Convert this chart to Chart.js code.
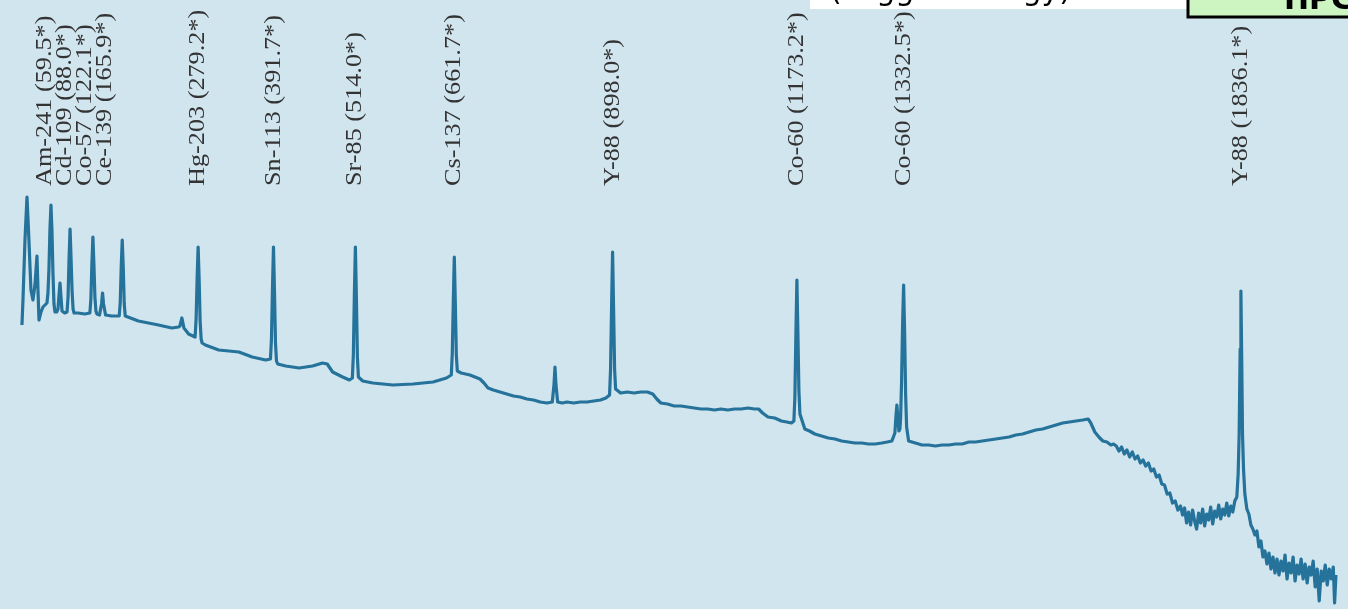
<!DOCTYPE html>
<html>
<head>
<meta charset="utf-8">
<title>Gamma-ray calibration spectrum</title>
<script src="https://cdn.jsdelivr.net/npm/chart.js@4/dist/chart.umd.min.js"></script>
<style>
  html, body { margin: 0; padding: 0; background: #d1e5ef; }
  #wrap { width: 1348px; height: 609px; position: relative; }
</style>
</head>
<body>
<div id="wrap"><canvas id="spectrum"></canvas></div>
<script>
// Photopeak labels: nuclide and line energy (keV)
const peakNuclides = ['Am-241', 'Cd-109', 'Co-57', 'Ce-139', 'Hg-203', 'Sn-113',
                      'Sr-85', 'Cs-137', 'Y-88', 'Co-60', 'Co-60', 'Y-88'];
const peakEnergiesKeV = [59.5, 88.0, 122.1, 165.9, 279.2, 391.7,
                         514.0, 661.7, 898.0, 1173.2, 1332.5, 1836.1];

// Header fragments along the top edge
const headerText = '(Trigger energy)';
const badgeText = 'HPGe';

// Measured spectrum: [energy keV, relative counts]
const spectrum = [
  [16.2, 284], [17.7, 309], [20.7, 369], [23.7, 412], [26.6, 369], [29.6, 319],
  [32.6, 309], [35.6, 324], [38.6, 353], [40.1, 319], [41.6, 289], [44.6, 297],
  [47.6, 302], [53.5, 306], [55.0, 316], [56.5, 340], [58.0, 380], [59.5, 404],
  [61.0, 378], [62.5, 335], [64.0, 305], [65.5, 297], [68.0, 297], [70.0, 300],
  [71.5, 314], [73.0, 326], [74.5, 312], [76.0, 298], [80.0, 296], [83.5, 297],
  [85.0, 312], [86.5, 350], [88.0, 380], [89.5, 350], [91.0, 318], [92.5, 300],
  [94.0, 296], [100, 296], [110, 295], [117.6, 296], [119.1, 310], [120.6, 345],
  [122.1, 372], [123.6, 345], [125.1, 312], [126.6, 298], [128.1, 295], [132, 294],
  [135, 305], [136.5, 316], [138, 305], [141, 294], [150, 293], [161.4, 293],
  [162.9, 306], [164.4, 342], [165.9, 369], [167.4, 342], [168.9, 305], [170.4, 293],
  [190, 288], [220, 284], [240, 281], [250, 282], [252, 283], [255, 291],
  [258, 281], [265, 275], [274.7, 272], [276.2, 290], [277.7, 330], [279.2, 362],
  [280.7, 330], [282.2, 288], [283.7, 270], [285.2, 266], [290, 264], [310, 259],
  [340, 257], [360, 252], [380, 249], [387.2, 250], [388.7, 270], [390.2, 320],
  [391.7, 362], [393.2, 318], [394.7, 266], [396.2, 248], [398, 245], [410, 243],
  [430, 241], [450, 243], [465, 246], [472, 245], [480, 237], [495, 232],
  [505, 229], [509.5, 231], [511.0, 255], [512.5, 315], [514.0, 362], [515.5, 312],
  [517.0, 252], [518.5, 232], [525, 228], [540, 226], [570, 224], [600, 225],
  [630, 227], [650, 231], [657.2, 234], [658.7, 256], [660.2, 308], [661.7, 352],
  [663.2, 306], [664.7, 254], [666.2, 238], [672, 236], [685, 234], [700, 230],
  [706, 226], [712, 221], [720, 219], [730, 217], [740, 215], [750, 213],
  [760, 212], [770, 210], [780, 209], [790, 207], [800, 206], [808, 207],
  [810.5, 224], [812, 242], [813.5, 224], [816, 207], [823, 206], [830, 207],
  [840, 206], [850, 207], [860, 207], [870, 208], [880, 209], [888, 211],
  [893.5, 214], [895, 240], [896.5, 302], [898.0, 357], [899.5, 300], [901, 240],
  [902.5, 220], [910, 216], [920, 217], [930, 216], [940, 217], [950, 217],
  [958, 215], [964, 210], [970, 206], [980, 205], [990, 203], [1000, 203],
  [1010, 202], [1020, 201], [1030, 200], [1040, 200], [1050, 199], [1060, 200],
  [1070, 199], [1080, 200], [1090, 200], [1100, 201], [1110, 200], [1116, 200],
  [1122, 196], [1130, 192], [1140, 191], [1150, 188], [1158, 187], [1165, 186],
  [1168.7, 188], [1170.2, 212], [1171.7, 275], [1173.2, 329], [1174.7, 275], [1176.2, 218],
  [1177.7, 195], [1185, 180], [1192, 178], [1200, 175], [1210, 173], [1220, 171],
  [1230, 170], [1240, 168], [1250, 167], [1260, 166], [1270, 166], [1280, 165],
  [1290, 165], [1300, 166], [1308, 167], [1315, 168], [1319.5, 176], [1321, 192],
  [1322.5, 204], [1324, 190], [1325.5, 178], [1327, 180], [1328.0, 190], [1329.5, 228],
  [1331.0, 285], [1332.5, 324], [1334.0, 278], [1335.5, 215], [1337.0, 182], [1340, 168],
  [1350, 166], [1360, 164], [1370, 164], [1380, 163], [1390, 164], [1400, 164],
  [1410, 165], [1420, 165], [1430, 167], [1440, 167], [1450, 168], [1460, 169],
  [1470, 170], [1480, 171], [1490, 172], [1500, 174], [1510, 175], [1520, 177],
  [1530, 179], [1540, 180], [1550, 182], [1560, 184], [1570, 186], [1580, 187],
  [1590, 188], [1600, 189], [1608, 190], [1612, 186], [1618, 177], [1624, 172],
  [1630, 168], [1636, 167], [1642, 164], [1646, 165], [1650, 163], [1654, 158],
  [1658, 162], [1662, 155], [1666, 159], [1670, 152], [1674, 157], [1678, 150],
  [1682, 153], [1686, 146], [1690, 149], [1694, 143], [1698, 146], [1702, 138],
  [1706, 140], [1710, 132], [1714, 134], [1718, 125], [1722, 124], [1726, 115],
  [1730, 116], [1734, 106], [1738, 108], [1742, 99], [1746, 103], [1749, 94],
  [1752, 101], [1755, 86], [1758, 97], [1761, 84], [1764, 99], [1767, 88],
  [1770, 80], [1773, 96], [1776, 86], [1779, 100], [1782, 83], [1785, 95],
  [1788, 89], [1791, 102], [1794, 85], [1797, 98], [1800, 92], [1803, 104],
  [1806, 90], [1809, 100], [1812, 94], [1815, 106], [1818, 93], [1821, 103],
  [1824, 97], [1827, 108], [1830, 112], [1832, 135], [1833.5, 175], [1835, 260],
  [1836.1, 318], [1837.3, 250], [1838.5, 175], [1840, 140], [1842, 115], [1845, 100],
  [1848, 95], [1851, 84], [1854, 80], [1857, 74], [1860, 78], [1863, 62],
  [1866, 68], [1869, 52], [1872, 58], [1875, 45], [1878, 56], [1881, 40],
  [1884, 52], [1887, 36], [1890, 50], [1893, 34], [1896, 48], [1899, 38],
  [1902, 54], [1905, 30], [1908, 46], [1911, 36], [1914, 52], [1917, 28],
  [1920, 44], [1923, 35], [1926, 50], [1929, 30], [1932, 45], [1935, 26],
  [1938, 42], [1941, 34], [1944, 48], [1947, 22], [1950, 40], [1953, 8],
  [1956, 38], [1959, 28], [1962, 44], [1965, 24], [1968, 40], [1971, 30],
  [1974, 42], [1976, 6], [1978, 34]
];

const COLORS = {
  background: '#d1e5ef',
  trace: '#25729a',
  label: '#333333',
  badgeFill: '#ccf5c2'
};

// Low-energy lines share one stacked label block
const STACK_LIMIT_KEV = 200;

const backgroundPlugin = {
  id: 'paper',
  beforeDraw(chart) {
    const { ctx, width, height } = chart;
    ctx.save();
    ctx.fillStyle = COLORS.background;
    ctx.fillRect(0, 0, width, height);
    ctx.restore();
  }
};

const peakLabelPlugin = {
  id: 'peakLabels',
  afterDatasetsDraw(chart) {
    const { ctx } = chart;
    const xs = chart.scales.x;
    const bottom = 186;
    const lineGap = 20;
    ctx.save();
    ctx.font = '23px "Liberation Serif", "Times New Roman", serif';
    ctx.fillStyle = COLORS.label;
    ctx.textAlign = 'left';

    const stacked = peakEnergiesKeV.filter(e => e < STACK_LIMIT_KEV).length;
    const stackX = xs.getPixelForValue(peakEnergiesKeV[0]);

    peakEnergiesKeV.forEach((e, i) => {
      const text = peakNuclides[i] + ' (' + e.toFixed(1) + '*)';
      let x, baseline;
      if (i < stacked) {
        x = stackX + i * lineGap;
        baseline = 'alphabetic';
      } else {
        x = xs.getPixelForValue(e);
        baseline = 'middle';
      }
      ctx.save();
      ctx.translate(x, bottom);
      ctx.rotate(-Math.PI / 2);
      ctx.scale(1.14, 1);
      ctx.textBaseline = baseline;
      ctx.fillText(text, 0, 0);
      ctx.restore();
    });
    ctx.restore();

    // header strip and badge along the top edge
    ctx.save();
    ctx.fillStyle = '#ffffff';
    ctx.fillRect(810, 0, 380, 9);
    ctx.fillStyle = '#000000';
    ctx.font = '30px "DejaVu Sans", sans-serif';
    ctx.textAlign = 'left';
    ctx.textBaseline = 'alphabetic';
    ctx.fillText(headerText, 830, 0);

    ctx.fillStyle = COLORS.badgeFill;
    ctx.fillRect(1188, -4, 170, 21);
    ctx.lineWidth = 3;
    ctx.strokeStyle = '#000000';
    ctx.strokeRect(1188, -4, 170, 21);
    ctx.fillStyle = '#000000';
    ctx.font = 'bold 30px "DejaVu Sans", sans-serif';
    ctx.fillText(badgeText, 1284, 9);
    ctx.restore();
  }
};

new Chart(document.getElementById('spectrum'), {
  type: 'line',
  data: {
    datasets: [{
      data: spectrum.map(([e, c]) => ({ x: e, y: c })),
      borderColor: COLORS.trace,
      borderWidth: 3.2,
      pointRadius: 0,
      tension: 0,
      fill: false,
      borderJoinStyle: 'round'
    }]
  },
  options: {
    responsive: true,
    maintainAspectRatio: false,
    animation: false,
    layout: { padding: 0 },
    plugins: { legend: { display: false }, tooltip: { enabled: false } },
    scales: {
      x: { type: 'linear', min: -16.6, max: 1996, display: false },
      y: { min: 0, max: 609, display: false }
    }
  },
  plugins: [backgroundPlugin, peakLabelPlugin]
});
</script>
</body>
</html>
